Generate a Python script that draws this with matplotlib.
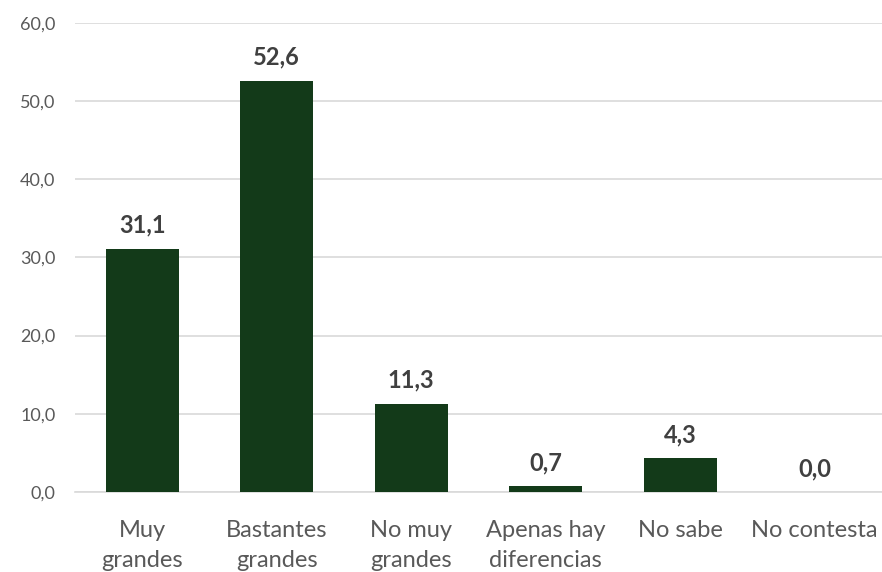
import matplotlib
matplotlib.use("Agg")
import matplotlib.pyplot as plt

# data
categories = ["Muy\ngrandes", "Bastantes\ngrandes", "No muy\ngrandes",
              "Apenas hay\ndiferencias", "No sabe", "No contesta"]
values = [31.1, 52.6, 11.3, 0.7, 4.3, 0.0]
yticks = [0, 10, 20, 30, 40, 50, 60]

plt.rcParams['font.family'] = ['Lato', 'DejaVu Sans']

fig = plt.figure(figsize=(8.82, 5.72), dpi=100)
ax = fig.add_axes([0.085, 0.14, 0.915, 0.82])

x = range(len(categories))
bars = ax.bar(x, values, width=0.54, color="#133A19", zorder=3)

for b, v in zip(bars, values):
    ax.annotate(f"{v:.1f}".replace(".", ","), (b.get_x() + b.get_width() / 2, v),
                xytext=(0, 11.5), textcoords="offset points",
                ha="center", va="baseline", fontsize=17, fontweight="bold", color="#404040")

ax.set_ylim(0, 60)
ax.set_xlim(-0.5, len(categories) - 0.5)
ax.set_yticks(yticks)
ax.set_yticklabels([f"{t:.1f}".replace(".", ",") for t in yticks], fontsize=13, color="#595959")
ax.set_xticks(list(x))
ax.set_xticklabels(categories, fontsize=17, color="#595959", linespacing=1.55)
ax.tick_params(axis="both", length=0)
ax.tick_params(axis="x", pad=20)
ax.tick_params(axis="y", pad=14)

ax.grid(axis="y", color="#D9D9D9", linewidth=1.2, zorder=0)
for s in ["top", "right", "left"]:
    ax.spines[s].set_visible(False)
ax.spines["bottom"].set_color("#D9D9D9")
ax.spines["bottom"].set_linewidth(1.2)

fig.savefig("out.png", dpi=100)
